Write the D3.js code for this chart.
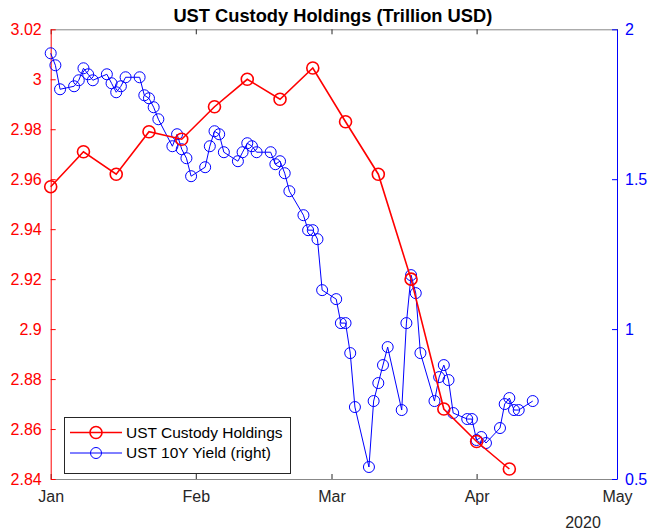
<!DOCTYPE html>
<html>
<head>
<meta charset="utf-8">
<script src="https://cdn.jsdelivr.net/npm/d3@7"></script>
<style>
  body { margin: 0; background: #fff; }
  svg { font-family: "Liberation Sans", Arial, sans-serif; }
</style>
</head>
<body>
<svg id="chart" width="652" height="530"></svg>
<script>
// Weekly custody holdings (left axis, trillion USD)
const custodyDates = ['2020-01-01', '2020-01-08', '2020-01-15', '2020-01-22', '2020-01-29',
    '2020-02-05', '2020-02-12', '2020-02-19', '2020-02-26', '2020-03-04', '2020-03-11',
    '2020-03-18', '2020-03-25', '2020-04-01', '2020-04-08'];
const custodyValues = [2.957, 2.971, 2.962, 2.979, 2.976, 2.989, 3.000, 2.992, 3.0045,
    2.983, 2.962, 2.920, 2.868, 2.855, 2.844];

// Daily 10Y yield (right axis, %)
const yieldDates = ['2020-01-01', '2020-01-02', '2020-01-03', '2020-01-06', '2020-01-07',
    '2020-01-08', '2020-01-09', '2020-01-10', '2020-01-13', '2020-01-14', '2020-01-15',
    '2020-01-16', '2020-01-17', '2020-01-20', '2020-01-21', '2020-01-22', '2020-01-23',
    '2020-01-24', '2020-01-27', '2020-01-28', '2020-01-29', '2020-01-30', '2020-01-31',
    '2020-02-03', '2020-02-04', '2020-02-05', '2020-02-06', '2020-02-07', '2020-02-10',
    '2020-02-11', '2020-02-12', '2020-02-13', '2020-02-14', '2020-02-17', '2020-02-18',
    '2020-02-19', '2020-02-20', '2020-02-21', '2020-02-24', '2020-02-25', '2020-02-26',
    '2020-02-27', '2020-02-28', '2020-03-02', '2020-03-03', '2020-03-04', '2020-03-05',
    '2020-03-06', '2020-03-09', '2020-03-10', '2020-03-11', '2020-03-12', '2020-03-13',
    '2020-03-16', '2020-03-17', '2020-03-18', '2020-03-19', '2020-03-20', '2020-03-23',
    '2020-03-24', '2020-03-25', '2020-03-26', '2020-03-27', '2020-03-30', '2020-03-31',
    '2020-04-01', '2020-04-02', '2020-04-03', '2020-04-06', '2020-04-07', '2020-04-08',
    '2020-04-09', '2020-04-10', '2020-04-13'];
const yieldValues = [1.92, 1.88, 1.80, 1.81, 1.83,
    1.87, 1.85, 1.83, 1.85, 1.82, 1.79,
    1.81, 1.84, 1.84, 1.78, 1.77, 1.74,
    1.70, 1.61, 1.65, 1.60, 1.57, 1.51,
    1.54, 1.61, 1.66, 1.65, 1.59, 1.56,
    1.59, 1.62, 1.61, 1.59, 1.59, 1.55,
    1.56, 1.52, 1.46, 1.38, 1.33, 1.33,
    1.30, 1.13, 1.10, 1.02, 1.02, 0.92,
    0.74, 0.54, 0.76, 0.82, 0.88, 0.94,
    0.73, 1.02, 1.18, 1.12, 0.92, 0.76,
    0.84, 0.88, 0.83, 0.72, 0.70, 0.70,
    0.63, 0.64, 0.62, 0.67, 0.75, 0.77,
    0.73, 0.73, 0.76];

// Axis ticks
const monthTicks = ['2020-01-01', '2020-02-01', '2020-03-01', '2020-04-01', '2020-05-01'];
const leftTicks = [2.84, 2.86, 2.88, 2.9, 2.92, 2.94, 2.96, 2.98, 3, 3.02];
const rightTicks = [0.5, 1, 1.5, 2];

const parse = d3.utcParse('%Y-%m-%d');
const custody = custodyDates.map((d, i) => ({ date: parse(d), value: custodyValues[i] }));
const yields = yieldDates.map((d, i) => ({ date: parse(d), value: yieldValues[i] }));

const svg = d3.select('#chart');
const box = { left: 50.7, right: 617, top: 29.3, bottom: 479 };
const red = '#ff0000', blue = '#0000ff', axisGray = '#262626';
const fontFamily = '"Liberation Sans", Arial, sans-serif';
const fontSize = 16;

const x = d3.scaleUtc()
    .domain([parse(monthTicks[0]), parse(monthTicks[monthTicks.length - 1])])
    .range([box.left, box.right]);
const yLeft = d3.scaleLinear().domain([2.84, 3.02]).range([box.bottom, box.top]);
const yRight = d3.scaleLinear().domain([0.5, 2]).range([box.bottom, box.top]);

// Bottom axis
const gx = svg.append('g')
    .attr('transform', `translate(0,${box.bottom})`)
    .call(d3.axisBottom(x)
        .tickValues(monthTicks.map(parse))
        .tickSizeInner(-5)
        .tickSizeOuter(0)
        .tickPadding(12)
        .tickFormat(d3.utcFormat('%b')));
gx.select('.domain').attr('stroke', axisGray).attr('stroke-opacity', 0.55);
gx.selectAll('.tick line').attr('stroke', axisGray);
gx.selectAll('.tick text')
    .attr('font-size', fontSize)
    .attr('fill', axisGray)
    .attr('font-family', fontFamily);

// Top axis (box line with ticks, no labels)
const gxTop = svg.append('g')
    .attr('transform', `translate(0,${box.top})`)
    .call(d3.axisTop(x).tickValues(monthTicks.map(parse)).tickSizeInner(-5).tickSizeOuter(0).tickFormat(''));
gxTop.select('.domain').attr('stroke', axisGray).attr('stroke-opacity', 0.55);
gxTop.selectAll('.tick line').attr('stroke', axisGray);

// Left axis
const gyL = svg.append('g')
    .attr('transform', `translate(${box.left},0)`)
    .call(d3.axisLeft(yLeft).tickValues(leftTicks).tickSizeInner(-5).tickSizeOuter(0)
        .tickPadding(9).tickFormat(d3.format('~g')));
gyL.select('.domain').attr('stroke', red);
gyL.selectAll('.tick line').attr('stroke', red);
gyL.selectAll('.tick text')
    .attr('font-size', fontSize)
    .attr('fill', red)
    .attr('font-family', fontFamily);

// Right axis
const gyR = svg.append('g')
    .attr('transform', `translate(${box.right},0)`)
    .call(d3.axisRight(yRight).tickValues(rightTicks).tickSizeInner(-5).tickSizeOuter(0)
        .tickPadding(8).tickFormat(d3.format('~g')));
gyR.select('.domain').attr('stroke', blue);
gyR.selectAll('.tick line').attr('stroke', blue);
gyR.selectAll('.tick text')
    .attr('font-size', fontSize)
    .attr('fill', blue)
    .attr('font-family', fontFamily);

// Year label
svg.append('text')
    .attr('x', 583)
    .attr('y', 528)
    .attr('text-anchor', 'middle')
    .attr('font-size', fontSize)
    .attr('fill', axisGray)
    .text('2020');

// Title
svg.append('text')
    .attr('x', (box.left + box.right) / 2 - 1)
    .attr('y', 22)
    .attr('text-anchor', 'middle')
    .attr('font-size', 18.3)
    .attr('font-weight', 'bold')
    .attr('fill', '#000')
    .text('UST Custody Holdings (Trillion USD)');

// Yield series
svg.append('path')
    .datum(yields)
    .attr('fill', 'none')
    .attr('stroke', blue)
    .attr('stroke-width', 1)
    .attr('d', d3.line().x(d => x(d.date)).y(d => yRight(d.value)));
svg.append('g').selectAll('circle')
    .data(yields)
    .join('circle')
    .attr('cx', d => x(d.date))
    .attr('cy', d => yRight(d.value))
    .attr('r', 5.5)
    .attr('fill', 'none')
    .attr('stroke', blue)
    .attr('stroke-width', 1);

// Custody series
svg.append('path')
    .datum(custody)
    .attr('fill', 'none')
    .attr('stroke', red)
    .attr('stroke-width', 1.6)
    .attr('d', d3.line().x(d => x(d.date)).y(d => yLeft(d.value)));
svg.append('g').selectAll('circle')
    .data(custody)
    .join('circle')
    .attr('cx', d => x(d.date))
    .attr('cy', d => yLeft(d.value))
    .attr('r', 6)
    .attr('fill', 'none')
    .attr('stroke', red)
    .attr('stroke-width', 1.6);

// Legend
const legend = svg.append('g');
legend.append('rect')
    .attr('x', 64.5).attr('y', 417.5)
    .attr('width', 226).attr('height', 56)
    .attr('fill', '#fff')
    .attr('stroke', axisGray)
    .attr('stroke-width', 1);
const legendItems = [
    { label: 'UST Custody Holdings', color: red, width: 1.6, r: 6 },
    { label: 'UST 10Y Yield (right)', color: blue, width: 1, r: 5.5 }
];
legendItems.forEach((item, i) => {
    const cy = 432.5 + i * 20.5;
    legend.append('line')
        .attr('x1', 70).attr('x2', 122)
        .attr('y1', cy).attr('y2', cy)
        .attr('stroke', item.color)
        .attr('stroke-width', item.width);
    legend.append('circle')
        .attr('cx', 96).attr('cy', cy)
        .attr('r', item.r)
        .attr('fill', 'none')
        .attr('stroke', item.color)
        .attr('stroke-width', item.width);
    legend.append('text')
        .attr('x', 126).attr('y', cy)
        .attr('dy', '0.35em')
        .attr('font-size', 15.5)
        .attr('fill', '#000')
        .text(item.label);
});
</script>
</body>
</html>
